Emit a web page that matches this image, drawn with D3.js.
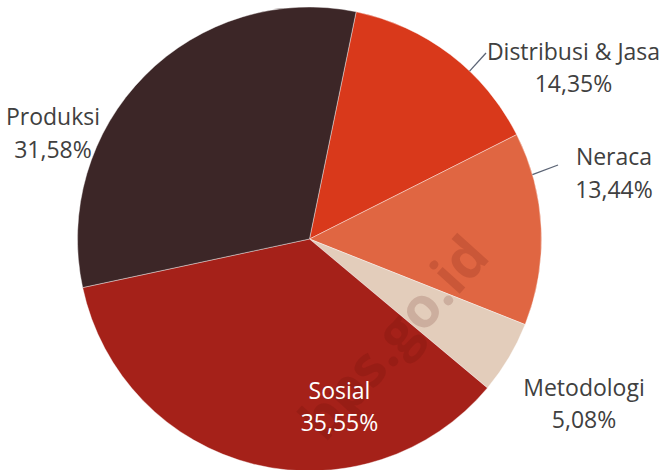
<!DOCTYPE html>
<html><head><meta charset="utf-8">
<script src="https://cdn.jsdelivr.net/npm/d3@7"></script>
<style>html,body{margin:0;padding:0;background:#fff;}svg{display:block;}</style>
</head><body>
<script>
const categories = ["Distribusi & Jasa", "Neraca", "Metodologi", "Sosial", "Produksi"];
const values = [14.35, 13.44, 5.08, 35.55, 31.58];
const valueLabels = ["14,35%", "13,44%", "5,08%", "35,55%", "31,58%"];
const colors = ["#D9391B", "#E06642", "#E3CDBB", "#A52119", "#3C2627"];

const W = 664, H = 470;
const cx = 309.5, cy = 239, R = 232;
const startDeg = 11.6;

const svg = d3.select("body").append("svg").attr("width", W).attr("height", H);
const g = svg.append("g").attr("transform", `translate(${cx},${cy})`);

const pie = d3.pie().sort(null).value(d => d)
  .startAngle(startDeg * Math.PI / 180)
  .endAngle((startDeg + 360) * Math.PI / 180);
const arcs = pie(values);
const arc = d3.arc().innerRadius(0).outerRadius(R);

g.selectAll("path.slice").data(arcs).enter().append("path")
  .attr("class", "slice")
  .attr("d", arc)
  .attr("fill", (d, i) => colors[i])
  .attr("stroke", "#fff").attr("stroke-width", 0.4);

// watermark
svg.append("text")
  .attr("transform", "translate(392,336) rotate(-48)")
  .attr("text-anchor", "middle").attr("dominant-baseline", "central")
  .attr("font-family", "'Open Sans', sans-serif").attr("font-weight", 700)
  .attr("font-size", 56).attr("fill", "#5a0c06").attr("fill-opacity", 0.16)
  .text("bps.go.id");

// label layout (first-line baseline of each label block, by slice index)
const labelPos = [
  {x: 573.5, y: 59.5}, {x: 614, y: 165}, {x: 584, y: 395.5}, {x: 339.5, y: 398.5}, {x: 53, y: 125}
];
const labelColor = ["#404040", "#404040", "#404040", "#ffffff", "#404040"];
const lineGap = 32.5;

arcs.forEach((d, i) => {
  const t = svg.append("text")
    .attr("text-anchor", "middle")
    .attr("font-family", "'Open Sans', sans-serif")
    .attr("font-size", 23)
    .attr("fill", labelColor[i]);
  t.append("tspan").attr("x", labelPos[i].x).attr("y", labelPos[i].y).text(categories[i]);
  t.append("tspan").attr("x", labelPos[i].x).attr("y", labelPos[i].y + lineGap).text(valueLabels[i]);
});

// leader lines for Distribusi & Jasa and Neraca
function edgePoint(i, frac) {
  const a = arcs[i].startAngle + (arcs[i].endAngle - arcs[i].startAngle) * frac;
  return [cx + R * Math.sin(a), cy - R * Math.cos(a)];
}
const leaders = [
  {i: 0, frac: 0.62, to: [486, 53]},
  {i: 1, frac: 0.22, to: [558, 165]}
];
leaders.forEach(l => {
  const p = edgePoint(l.i, l.frac);
  svg.append("line")
    .attr("x1", p[0]).attr("y1", p[1]).attr("x2", l.to[0]).attr("y2", l.to[1])
    .attr("stroke", "#5B6475").attr("stroke-width", 1.3);
});
</script>
</body></html>
